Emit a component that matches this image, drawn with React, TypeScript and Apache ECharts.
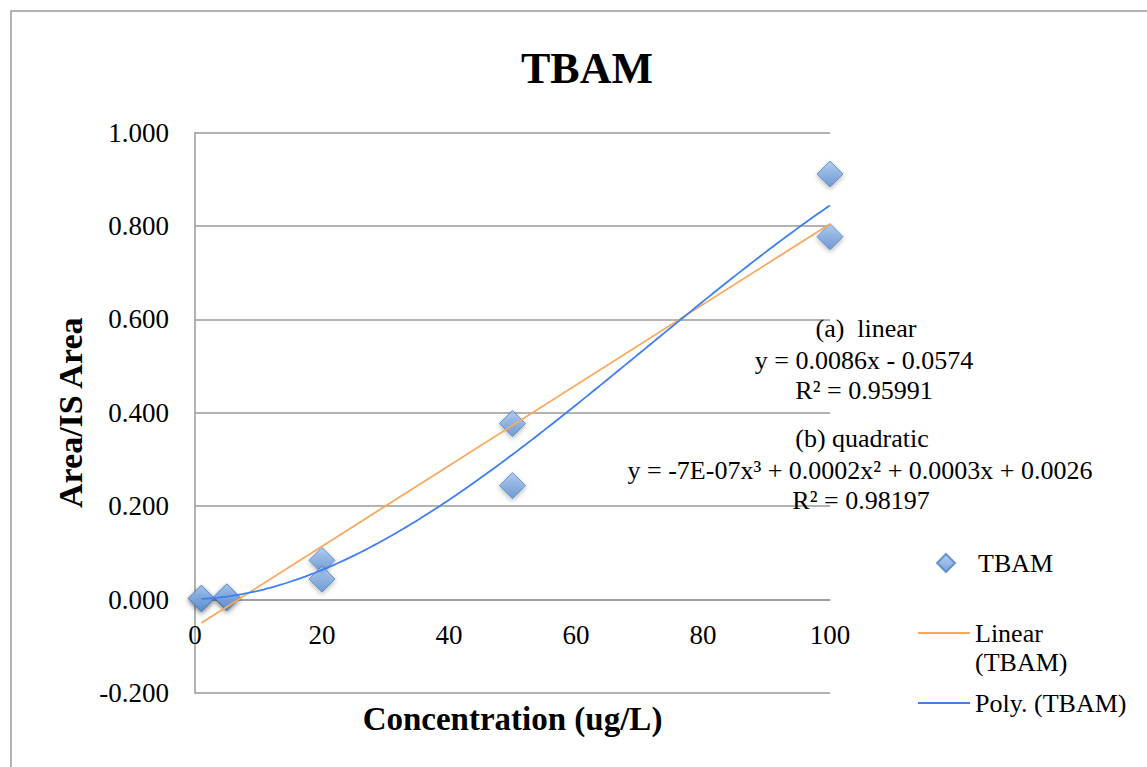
import React, { useEffect, useRef } from "react";
import * as echarts from "echarts";

// ---- data ----
const concentration = [1, 1, 5, 5, 20, 20, 50, 50, 100, 100];
const areaRatio = [0.002, 0.003, 0.004, 0.006, 0.084, 0.044, 0.377, 0.244, 0.911, 0.777];
const xAxisRange = [0, 100];
const xInterval = 20;
const yAxisRange = [-0.2, 1.0];
const yInterval = 0.2;
const seriesNames = ["TBAM", "Linear (TBAM)", "Poly. (TBAM)"];
const chartTitle = "TBAM";
const xAxisTitle = "Concentration (ug/L)";
const yAxisTitle = "Area/IS Area";
const equationLines = [
  "(a)  linear",
  "y = 0.0086x - 0.0574",
  "R² = 0.95991",
  "(b) quadratic",
  "y = -7E-07x³ + 0.0002x² + 0.0003x + 0.0026",
  "R² = 0.98197",
];

// least-squares polynomial fit
function polyFit(xs: number[], ys: number[], deg: number): number[] {
  const n = deg + 1;
  const A: number[][] = [];
  for (let i = 0; i < n; i++) {
    const row: number[] = [];
    for (let j = 0; j < n; j++) {
      let s = 0;
      for (let k = 0; k < xs.length; k++) s += Math.pow(xs[k], i + j);
      row.push(s);
    }
    let b = 0;
    for (let k = 0; k < xs.length; k++) b += ys[k] * Math.pow(xs[k], i);
    row.push(b);
    A.push(row);
  }
  for (let c = 0; c < n; c++) {
    let p = c;
    for (let r = c + 1; r < n; r++) if (Math.abs(A[r][c]) > Math.abs(A[p][c])) p = r;
    const t = A[c]; A[c] = A[p]; A[p] = t;
    for (let r = 0; r < n; r++) {
      if (r === c) continue;
      const f = A[r][c] / A[c][c];
      for (let k = c; k <= n; k++) A[r][k] -= f * A[c][k];
    }
  }
  return A.map((row, i) => row[n] / row[i]);
}
const evalPoly = (c: number[], x: number) => c.reduce((s, ci, i) => s + ci * Math.pow(x, i), 0);

export default function App() {
  const ref = useRef<HTMLDivElement>(null);
  useEffect(() => {
    if (!ref.current) return;
    const chart = echarts.init(ref.current, undefined, { renderer: "svg" });
    const xMin = Math.min(...concentration);
    const xMax = Math.max(...concentration);
    const lin = polyFit(concentration, areaRatio, 1);
    const cub = polyFit(concentration, areaRatio, 3);
    const linData = [xMin, xMax].map((x) => [x, evalPoly(lin, x)]);
    const cubData: number[][] = [];
    for (let i = 0; i <= 200; i++) {
      const x = xMin + ((xMax - xMin) * i) / 200;
      cubData.push([x, evalPoly(cub, x)]);
    }
    const serif = "'Liberation Serif', 'Times New Roman', serif";
    const gray = "#9a9a9a";
    const eqX = [866, 864, 864, 862, 860, 861];
    const eqY = [328, 360, 390, 438, 470, 500];
    const legendText = { fontFamily: serif, fontSize: 26, color: "#000", lineHeight: 29 };
    const gridTop = 132.5;
    const gridHeight = 560.5;
    // pixel distance from the bottom of the grid up to the zero line
    const zeroOffset = (gridHeight * (0 - yAxisRange[0])) / (yAxisRange[1] - yAxisRange[0]);
    chart.setOption({
      animation: false,
      backgroundColor: "#fff",
      textStyle: { fontFamily: serif },
      grid: {
        left: 195,
        top: gridTop,
        width: 635,
        height: gridHeight,
        containLabel: false,
        outerBoundsMode: "none",
      },
      xAxis: {
        type: "value",
        min: xAxisRange[0],
        max: xAxisRange[1],
        interval: xInterval,
        offset: -zeroOffset,
        name: xAxisTitle,
        nameLocation: "middle",
        nameGap: 103,
        nameTextStyle: { fontFamily: serif, fontWeight: "bold", fontSize: 33, color: "#000" },
        axisLine: { onZero: false, lineStyle: { color: gray, width: 1.5 } },
        axisTick: { show: false },
        splitLine: { show: false },
        axisLabel: { fontFamily: serif, fontSize: 27, color: "#000", margin: 22 },
      },
      yAxis: {
        type: "value",
        min: yAxisRange[0],
        max: yAxisRange[1],
        interval: yInterval,
        name: yAxisTitle,
        nameLocation: "middle",
        nameRotate: 90,
        nameGap: 108,
        nameTextStyle: { fontFamily: serif, fontWeight: "bold", fontSize: 34, color: "#000" },
        axisLine: { show: true, onZero: false, lineStyle: { color: gray, width: 1.5 } },
        axisTick: { show: false },
        splitLine: { show: true, lineStyle: { color: gray, width: 1.5 } },
        axisLabel: {
          fontFamily: serif,
          fontSize: 27,
          color: "#000",
          margin: 26,
          formatter: (v: number) => v.toFixed(3),
        },
      },
      legend: [
        {
          data: [seriesNames[0]],
          orient: "vertical",
          left: 936,
          top: 548.5,
          padding: 0,
          itemWidth: 18,
          itemHeight: 18,
          textStyle: { ...legendText, padding: [0, 0, 0, 18] },
        },
        {
          data: [{ name: seriesNames[1], icon: "rect" }],
          orient: "vertical",
          left: 918,
          top: 589.5,
          padding: 0,
          itemWidth: 52,
          itemHeight: 2,
          symbolKeepAspect: false,
          formatter: () => "{p| }\n{t|Linear}\n{t|(TBAM)}",
          textStyle: {
            ...legendText,
            rich: {
              p: { fontSize: 26, lineHeight: 29 },
              t: { fontFamily: serif, fontSize: 26, color: "#000", lineHeight: 29 },
            },
          },
        },
        {
          data: [{ name: seriesNames[2], icon: "rect" }],
          orient: "vertical",
          left: 918,
          top: 688.5,
          padding: 0,
          itemWidth: 52,
          itemHeight: 2,
          symbolKeepAspect: false,
          textStyle: legendText,
        },
      ],
      graphic: [
        {
          type: "rect",
          shape: { x: 11, y: 11, width: 1150, height: 770 },
          style: { fill: "none", stroke: gray, lineWidth: 1.5 },
          silent: true,
        },
        {
          type: "text",
          x: 587,
          y: 68,
          style: {
            text: chartTitle,
            fontFamily: serif,
            fontWeight: "bold",
            fontSize: 44,
            fill: "#000",
            align: "center",
            verticalAlign: "middle",
          },
        },
        ...equationLines.map((t, i) => ({
          type: "text",
          x: eqX[i],
          y: eqY[i],
          z: 100,
          style: {
            text: t,
            fontFamily: serif,
            fontSize: 26,
            fill: "#000",
            align: "center",
            verticalAlign: "middle",
          },
        })),
      ],
      series: [
        {
          name: seriesNames[0],
          type: "scatter",
          symbol: "diamond",
          symbolSize: 26,
          data: concentration.map((x, i) => [x, areaRatio[i]]),
          itemStyle: {
            color: new echarts.graphic.LinearGradient(0, 0, 0, 1, [
              { offset: 0, color: "#a3c4ef" },
              { offset: 1, color: "#5b8ed2" },
            ]),
            borderColor: "#4f81c0",
            borderWidth: 1,
            shadowBlur: 5,
            shadowColor: "rgba(0,0,0,0.35)",
            shadowOffsetY: 2,
          },
        },
        {
          name: seriesNames[1],
          type: "line",
          symbol: "none",
          data: linData,
          lineStyle: { color: "#f9a85c", width: 1.8 },
          itemStyle: { color: "#f9a85c" },
        },
        {
          name: seriesNames[2],
          type: "line",
          symbol: "none",
          data: cubData,
          lineStyle: { color: "#3f7ff2", width: 1.8 },
          itemStyle: { color: "#3f7ff2" },
        },
      ],
    });
    return () => chart.dispose();
  }, []);
  return (
    <div
      ref={ref}
      style={{ position: "fixed", left: 0, top: 0, width: 1147, height: 767 }}
    />
  );
}
